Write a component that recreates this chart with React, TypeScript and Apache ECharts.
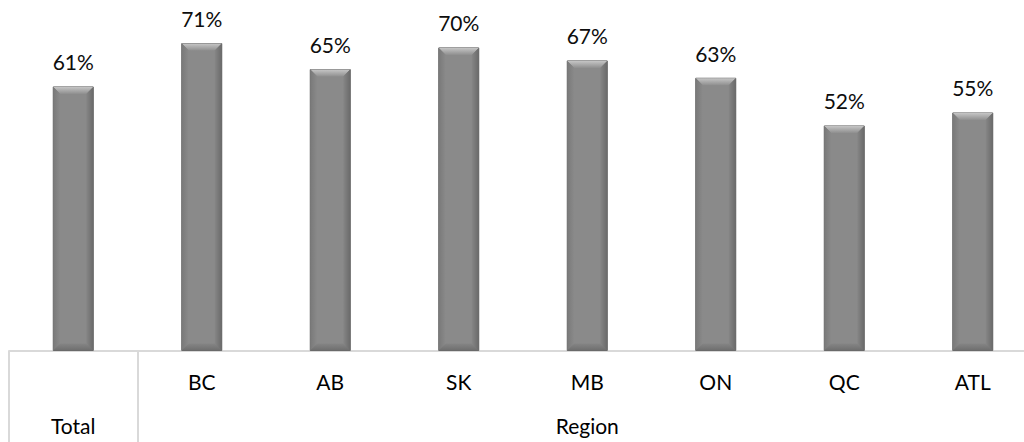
import { useEffect, useRef } from "react";
import * as echarts from "echarts";

// Share of respondents, overall and by region
const categories = ["Total", "BC", "AB", "SK", "MB", "ON", "QC", "ATL"];
const values = [61, 71, 65, 70, 67, 63, 52, 55];
const groupLabels = [
  { name: "Total", at: 0.5 },
  { name: "Region", at: 4.5 },
];

const FONT = "Lato, 'Open Sans', sans-serif";
const FONT_SIZE = 21;
const BAR_W = 41;
const BEVEL = 7;

export default function App() {
  const ref = useRef<HTMLDivElement>(null);

  useEffect(() => {
    if (!ref.current) return;
    const chart = echarts.init(ref.current, null, { renderer: "svg" });

    const lin = (x2: number, y2: number, stops: [number, string][]) =>
      new echarts.graphic.LinearGradient(
        0,
        0,
        x2,
        y2,
        stops.map(([offset, color]) => ({ offset, color }))
      );

    chart.setOption({
      animation: false,
      backgroundColor: "#ffffff",
      textStyle: { fontFamily: FONT },
      grid: { left: 9, right: -13, top: 4, bottom: 91, outerBoundsMode: "none" },
      xAxis: [
        {
          type: "category",
          data: categories,
          boundaryGap: true,
          axisLine: { show: true, lineStyle: { color: "#d9d9d9", width: 2 } },
          axisTick: {
            show: true,
            length: 91,
            interval: (index: number) => index <= 1,
            lineStyle: { color: "#d9d9d9", width: 2 },
          },
          axisLabel: {
            interval: 0,
            margin: 7,
            fontFamily: FONT,
            fontSize: FONT_SIZE,
            fontWeight: 400,
            lineHeight: 46,
            color: "#000000",
            formatter: (v: string) => (v === "Total" ? "" : v),
          },
        },
        {
          type: "value",
          position: "bottom",
          min: 0,
          max: categories.length,
          interval: 0.5,
          axisLine: { show: false },
          axisTick: { show: false },
          splitLine: { show: false },
          axisLabel: {
            margin: 7,
            fontFamily: FONT,
            fontSize: FONT_SIZE,
            fontWeight: 400,
            lineHeight: 45,
            color: "#000000",
            formatter: (v: number) => {
              const g = groupLabels.find((it) => Math.abs(it.at - v) < 1e-6);
              return g ? "\n" + g.name : "";
            },
          },
        },
      ],
      yAxis: { type: "value", min: 0, max: 80, show: false },
      series: [
        {
          type: "bar",
          xAxisIndex: 0,
          data: values,
          barWidth: BAR_W,
          itemStyle: {
            color: lin(1, 0, [
              [0, "#737373"],
              [0.17, "#8a8a8a"],
              [0.83, "#8a8a8a"],
              [1, "#6b6b6b"],
            ]),
            borderColor: "#666666",
            borderWidth: 1,
          },
          label: {
            show: true,
            position: "top",
            distance: 14,
            fontFamily: FONT,
            fontSize: FONT_SIZE,
            fontWeight: 400,
            color: "#0d0d0d",
            formatter: (p: any) => p.value + "%",
          },
          z: 2,
        },
        {
          type: "custom",
          xAxisIndex: 0,
          data: values.map((v, i) => [i, v]),
          encode: { x: 0, y: 1 },
          silent: true,
          z: 3,
          renderItem: (_params: any, api: any) => {
            const top = api.coord([api.value(0), api.value(1)]);
            const base = api.coord([api.value(0), 0]);
            const x0 = top[0] - BAR_W / 2 + 0.5;
            const x1 = top[0] + BAR_W / 2 - 0.5;
            const y0 = top[1] + 0.5;
            const y1 = base[1] - 0.5;
            const d = BEVEL;
            return {
              type: "group",
              children: [
                {
                  type: "polygon",
                  shape: { points: [[x0, y0], [x1, y0], [x1 - d, y0 + d], [x0 + d, y0 + d]] },
                  style: { fill: lin(0, 1, [[0, "#c6c6c6"], [1, "#8f8f8f"]]) },
                },
                {
                  type: "polygon",
                  shape: { points: [[x0, y0], [x0 + d, y0 + d], [x0 + d, y1 - d], [x0, y1]] },
                  style: { fill: lin(1, 0, [[0, "#797979"], [1, "#8a8a8a"]]) },
                },
                {
                  type: "polygon",
                  shape: { points: [[x1, y0], [x1, y1], [x1 - d, y1 - d], [x1 - d, y0 + d]] },
                  style: { fill: lin(1, 0, [[0, "#868686"], [1, "#6a6a6a"]]) },
                },
                {
                  type: "polygon",
                  shape: { points: [[x0, y1], [x0 + d, y1 - d], [x1 - d, y1 - d], [x1, y1]] },
                  style: { fill: lin(0, 1, [[0, "#858585"], [1, "#6e6e6e"]]) },
                },
              ],
            };
          },
        },
      ],
    });

    return () => chart.dispose();
  }, []);

  return (
    <div
      ref={ref}
      style={{ position: "fixed", left: 0, top: 0, width: 1024, height: 442 }}
    />
  );
}
